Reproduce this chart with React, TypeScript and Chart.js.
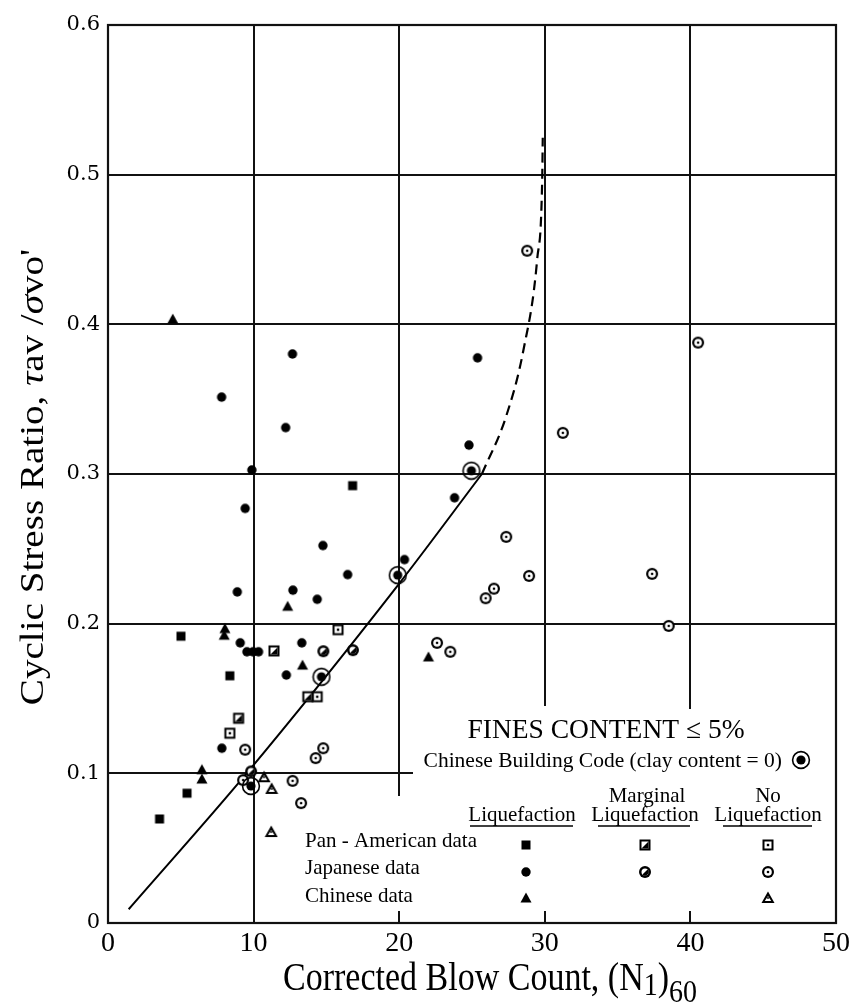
import React, { useEffect, useRef } from 'react';
import { Chart, registerables } from 'chart.js';

Chart.register(...registerables);

// ---------- axes ----------
const xTickValues = [0, 10, 20, 30, 40, 50];
const xTickLabels = ['0', '10', '20', '30', '40', '50'];
const yTickValues = [0, 0.1, 0.2, 0.3, 0.4, 0.5, 0.6];
const yTickLabels = ['0', '0.1', '0.2', '0.3', '0.4', '0.5', '0.6'];

// ---------- grid structure (data units) ----------
const hGridValues = [0.1, 0.2, 0.3, 0.4, 0.5];
const hGridEnds = [20.96, 50, 50, 50, 50];
const vGridValues = [10, 20, 30, 40];
const vGridStops = [0, 0.085, 0.145, 0.143];
const bottomTickValues = [20, 30, 40];
const bottomTickLength = 0.008;

// ---------- Pan-American data ----------
const panLiqX = [5.01, 8.37, 5.43, 3.54, 16.8];
const panLiqY = [0.1916, 0.1652, 0.0867, 0.0695, 0.2922];
const panMargX = [11.4, 13.72, 8.97];
const panMargY = [0.1818, 0.1512, 0.1368];
const panNoX = [15.8, 14.37, 8.37];
const panNoY = [0.196, 0.1512, 0.1268];

// ---------- Japanese data ----------
const japLiqX = [7.8, 12.67, 12.2, 9.88, 9.42, 25.38, 24.79, 23.8, 20.36, 14.76, 16.46, 8.88, 12.7, 14.37, 9.08, 9.54, 9.96, 10.34, 13.31, 12.25, 7.82];
const japLiqY = [0.3514, 0.3802, 0.331, 0.3027, 0.277, 0.3776, 0.3193, 0.2841, 0.2428, 0.2522, 0.2328, 0.2212, 0.2224, 0.2163, 0.1872, 0.1812, 0.1812, 0.1812, 0.1872, 0.1657, 0.1168];
const japMargX = [14.79, 16.82, 9.83];
const japMargY = [0.1816, 0.1823, 0.1013];
const japNoX = [28.79, 40.53, 31.24, 27.35, 28.92, 26.51, 25.94, 37.37, 38.51, 22.6, 23.51, 9.42, 14.26, 14.78, 12.68, 13.26, 9.28];
const japNoY = [0.4492, 0.3878, 0.3275, 0.258, 0.2319, 0.2234, 0.217, 0.2333, 0.1985, 0.1872, 0.1812, 0.1158, 0.1102, 0.1168, 0.095, 0.0801, 0.0955];

// ---------- Chinese data ----------
const chiLiqX = [4.45, 12.34, 8.03, 7.98, 13.36, 6.45, 6.45, 22.01];
const chiLiqY = [0.4035, 0.2116, 0.1967, 0.1923, 0.1723, 0.1025, 0.0962, 0.1778];
const chiNoX = [10.72, 11.24, 11.21];
const chiNoY = [0.0974, 0.0896, 0.0608];

// ---------- Chinese Building Code ----------
const codeX = [24.96, 19.9, 14.66, 9.82];
const codeY = [0.3022, 0.2324, 0.1645, 0.0915];

// ---------- boundary curve ----------
const curveSolidX = [1.42, 9.52, 20.0, 25.68];
const curveSolidY = [0.0092, 0.1, 0.2268, 0.3];
const curveDashX = [25.68, 27.33, 28.53, 29.48, 29.82, 29.86];
const curveDashY = [0.3, 0.3381, 0.3827, 0.4438, 0.4961, 0.5247];

const SERIF = '"Liberation Serif", "Times New Roman", serif';

const pts = (xs: number[], ys: number[]) => xs.map((x, i) => ({ x, y: ys[i] }));

function makeMarker(kind: string): HTMLCanvasElement {
  const S = kind === 'code' ? 20 : 14;
  const c = document.createElement('canvas');
  c.width = S;
  c.height = S;
  const g = c.getContext('2d')!;
  const m = S / 2;
  g.fillStyle = '#000';
  g.strokeStyle = '#000';
  const tri = (h: number, top: number, bot: number) => {
    g.beginPath();
    g.moveTo(m, m + top);
    g.lineTo(m + h, m + bot);
    g.lineTo(m - h, m + bot);
    g.closePath();
    g.fill();
  };
  const disc = (r: number) => {
    g.beginPath();
    g.arc(m, m, r, 0, Math.PI * 2);
    g.fill();
  };
  switch (kind) {
    case 'sqFill':
      g.fillRect(m - 4.5, m - 4.5, 9, 9);
      break;
    case 'circFill':
      disc(4.7);
      break;
    case 'triFill':
      tri(5.5, -5.5, 4.5);
      break;
    case 'sqMarg':
      g.fillRect(m - 5.5, m - 5.5, 11, 11);
      g.fillStyle = '#fff';
      g.fillRect(m - 3.5, m - 3.5, 7, 7);
      g.fillStyle = '#000';
      g.beginPath();
      g.moveTo(m + 3.5, m - 3.5);
      g.lineTo(m + 3.5, m + 3.5);
      g.lineTo(m - 3.5, m + 3.5);
      g.closePath();
      g.fill();
      break;
    case 'sqNo':
      g.fillRect(m - 5.5, m - 5.5, 11, 11);
      g.fillStyle = '#fff';
      g.fillRect(m - 3.5, m - 3.5, 7, 7);
      g.fillStyle = '#000';
      g.fillRect(m - 1.2, m - 1.2, 2.4, 2.4);
      break;
    case 'circMarg':
      disc(6);
      g.fillStyle = '#fff';
      disc(3.5);
      g.fillStyle = '#000';
      g.beginPath();
      g.arc(m, m, 3.6, -Math.PI / 4, (3 * Math.PI) / 4);
      g.closePath();
      g.fill();
      break;
    case 'circNo':
      disc(6);
      g.fillStyle = '#fff';
      disc(3.8);
      g.fillStyle = '#000';
      disc(1.3);
      break;
    case 'triNo':
      tri(6.5, -6.5, 5);
      g.fillStyle = '#fff';
      tri(3.2, -2, 3);
      g.fillStyle = '#000';
      disc(0.9);
      break;
    case 'code':
      g.lineWidth = 1.6;
      g.beginPath();
      g.arc(m, m, 8.4, 0, Math.PI * 2);
      g.stroke();
      disc(4.6);
      break;
  }
  return c;
}

function drawRich(
  ctx: CanvasRenderingContext2D,
  segs: { t: string; f: string; dy?: number }[],
  x: number,
  y: number,
  rot: number,
  sx: number,
  sy: number
) {
  ctx.save();
  ctx.translate(x, y);
  if (rot) ctx.rotate(rot);
  ctx.scale(sx, sy);
  ctx.fillStyle = '#000';
  ctx.textAlign = 'left';
  ctx.textBaseline = 'alphabetic';
  let total = 0;
  for (const s of segs) {
    ctx.font = s.f;
    total += ctx.measureText(s.t).width;
  }
  let cx = -total / 2;
  for (const s of segs) {
    ctx.font = s.f;
    ctx.fillText(s.t, cx, s.dy || 0);
    cx += ctx.measureText(s.t).width;
  }
  ctx.restore();
}

function text(ctx: CanvasRenderingContext2D, t: string, x: number, y: number, size: number, align: CanvasTextAlign) {
  ctx.save();
  ctx.font = `${size}px ${SERIF}`;
  ctx.fillStyle = '#000';
  ctx.textAlign = align;
  ctx.textBaseline = 'alphabetic';
  ctx.fillText(t, x, y);
  ctx.restore();
}

export default function App() {
  const ref = useRef<HTMLCanvasElement>(null);

  useEffect(() => {
    document.body.style.margin = '0';
    const canvas = ref.current!;
    const mk = {
      sqFill: makeMarker('sqFill'),
      circFill: makeMarker('circFill'),
      triFill: makeMarker('triFill'),
      sqMarg: makeMarker('sqMarg'),
      sqNo: makeMarker('sqNo'),
      circMarg: makeMarker('circMarg'),
      circNo: makeMarker('circNo'),
      triNo: makeMarker('triNo'),
      code: makeMarker('code'),
    };

    const gridPlugin = {
      id: 'customGrid',
      beforeDatasetsDraw(chart: any) {
        const { ctx, chartArea } = chart;
        const xs = chart.scales.x;
        const ys = chart.scales.y;
        const X = (v: number) => Math.round(xs.getPixelForValue(v));
        const Y = (v: number) => Math.round(ys.getPixelForValue(v));
        ctx.save();
        ctx.strokeStyle = '#111';
        ctx.lineWidth = 2;
        const line = (x1: number, y1: number, x2: number, y2: number) => {
          ctx.beginPath();
          ctx.moveTo(x1, y1);
          ctx.lineTo(x2, y2);
          ctx.stroke();
        };
        hGridValues.forEach((v, i) => line(X(0), Y(v), X(hGridEnds[i]), Y(v)));
        vGridValues.forEach((v, i) => line(X(v), Y(0.6), X(v), Y(vGridStops[i])));
        bottomTickValues.forEach((v) => line(X(v), Y(0), X(v), Y(bottomTickLength)));
        ctx.lineWidth = 2.2;
        ctx.strokeRect(
          Math.round(chartArea.left),
          Math.round(chartArea.top),
          Math.round(chartArea.right) - Math.round(chartArea.left),
          Math.round(chartArea.bottom) - Math.round(chartArea.top)
        );
        ctx.restore();
      },
    };

    const textPlugin = {
      id: 'customText',
      afterDraw(chart: any) {
        const { ctx, chartArea } = chart;
        const ox = chartArea.left - 108;
        const oy = chartArea.top - 25;
        const P = (x: number, y: number) => [x + ox, y + oy];

        // axis titles
        const big = `34px ${SERIF}`;
        const bigI = `italic 34px ${SERIF}`;
        const sub = `28px ${SERIF}`;
        drawRich(
          ctx,
          [
            { t: 'Corrected Blow Count, (N', f: big },
            { t: '1', f: sub, dy: 4 },
            { t: ')', f: big },
            { t: '60', f: sub, dy: 10 },
          ],
          490 + ox,
          990 + oy,
          0,
          1,
          1.15
        );
        drawRich(
          ctx,
          [
            { t: 'Cyclic Stress Ratio, ', f: big },
            { t: 'τ', f: bigI },
            { t: 'av /', f: big },
            { t: 'σ', f: bigI },
            { t: "vo'", f: big },
          ],
          43 + ox,
          477 + oy,
          -Math.PI / 2,
          1.15,
          1
        );

        // legend block
        let p = P(606, 738);
        text(ctx, 'FINES CONTENT ≤ 5%', p[0], p[1], 27.5, 'center');
        p = P(782, 766.5);
        text(ctx, 'Chinese Building Code (clay content = 0)', p[0], p[1], 21.5, 'right');
        const drawMk = (c: HTMLCanvasElement, x: number, y: number) => {
          const q = P(x, y);
          ctx.drawImage(c, Math.round(q[0] - c.width / 2), Math.round(q[1] - c.height / 2));
        };
        drawMk(mk.code, 801, 760);

        p = P(647, 802);
        text(ctx, 'Marginal', p[0], p[1], 21, 'center');
        p = P(768, 802);
        text(ctx, 'No', p[0], p[1], 21, 'center');
        const cols = [522, 645, 768];
        cols.forEach((cx) => {
          const q = P(cx, 820.5);
          text(ctx, 'Liquefaction', q[0], q[1], 21, 'center');
        });
        ctx.save();
        ctx.strokeStyle = '#000';
        ctx.lineWidth = 1.6;
        [
          [470, 573],
          [598, 690],
          [723, 812],
        ].forEach(([a, b]) => {
          const q1 = P(a, 826);
          const q2 = P(b, 826);
          ctx.beginPath();
          ctx.moveTo(q1[0], q1[1]);
          ctx.lineTo(q2[0], q2[1]);
          ctx.stroke();
        });
        ctx.restore();

        const rows = ['Pan - American data', 'Japanese data', 'Chinese data'];
        const rowBase = [846.5, 874, 901.5];
        rows.forEach((r, i) => {
          const q = P(305, rowBase[i]);
          text(ctx, r, q[0], q[1], 21, 'left');
        });
        const markY = [845, 871.5, 898];
        drawMk(mk.sqFill, 526, markY[0]);
        drawMk(mk.sqMarg, 645, markY[0]);
        drawMk(mk.sqNo, 768, markY[0]);
        drawMk(mk.circFill, 526, markY[1]);
        drawMk(mk.circMarg, 645, markY[1]);
        drawMk(mk.circNo, 768, markY[1]);
        drawMk(mk.triFill, 526, markY[2]);
        drawMk(mk.triNo, 768, markY[2]);
      },
    };

    const pointSet = (data: { x: number; y: number }[], style: HTMLCanvasElement, order = 1) => ({
      type: 'scatter' as const,
      data,
      pointStyle: style,
      pointRadius: 6,
      pointHoverRadius: 6,
      showLine: false,
      order,
    });

    const chart = new Chart(canvas, {
      type: 'scatter',
      data: {
        datasets: [
          pointSet(pts(codeX, codeY), mk.code, 0),
          pointSet(pts(panLiqX, panLiqY), mk.sqFill),
          pointSet(pts(panMargX, panMargY), mk.sqMarg),
          pointSet(pts(panNoX, panNoY), mk.sqNo),
          pointSet(pts(japLiqX, japLiqY), mk.circFill),
          pointSet(pts(japMargX, japMargY), mk.circMarg),
          pointSet(pts(japNoX, japNoY), mk.circNo),
          pointSet(pts(chiLiqX, chiLiqY), mk.triFill),
          pointSet(pts(chiNoX, chiNoY), mk.triNo),
          {
            type: 'scatter' as const,
            data: pts(curveSolidX, curveSolidY),
            showLine: true,
            borderColor: '#000',
            borderWidth: 2,
            pointRadius: 0,
            cubicInterpolationMode: 'monotone',
            fill: false,
            order: 2,
          } as any,
          {
            type: 'scatter' as const,
            data: pts(curveDashX, curveDashY),
            showLine: true,
            borderColor: '#000',
            borderWidth: 2.2,
            borderDash: [10, 6],
            pointRadius: 0,
            cubicInterpolationMode: 'monotone',
            fill: false,
            order: 2,
          } as any,
        ],
      },
      options: {
        responsive: false,
        animation: false,
        events: [],
        layout: { padding: { top: 25, right: 22, left: 0, bottom: 0 } },
        plugins: {
          legend: { display: false },
          tooltip: { enabled: false },
          title: { display: false },
        },
        scales: {
          x: {
            type: 'linear',
            min: 0,
            max: 50,
            afterBuildTicks: (s: any) => {
              s.ticks = xTickValues.map((v) => ({ value: v }));
            },
            afterFit: (s: any) => {
              s.height = 82;
            },
            grid: { display: false, drawTicks: false },
            border: { display: false },
            ticks: {
              color: '#000',
              padding: 4,
              maxRotation: 0,
              autoSkip: false,
              font: { family: SERIF, size: 28 },
              callback: (_v: any, i: number) => xTickLabels[i],
            },
          },
          y: {
            type: 'linear',
            min: 0,
            max: 0.6,
            afterBuildTicks: (s: any) => {
              s.ticks = yTickValues.map((v) => ({ value: v }));
            },
            afterFit: (s: any) => {
              s.width = 108;
            },
            grid: { display: false, drawTicks: false },
            border: { display: false },
            ticks: {
              color: '#000',
              padding: 8,
              autoSkip: false,
              font: { family: '"DejaVu Serif", serif', size: 21 },
              callback: (_v: any, i: number) => yTickLabels[i],
            },
          },
        },
      } as any,
      plugins: [gridPlugin, textPlugin],
    });

    return () => chart.destroy();
  }, []);

  return (
    <div style={{ width: 858, height: 1005, background: '#fff' }}>
      <canvas ref={ref} width={858} height={1005} style={{ display: 'block' }} />
    </div>
  );
}
